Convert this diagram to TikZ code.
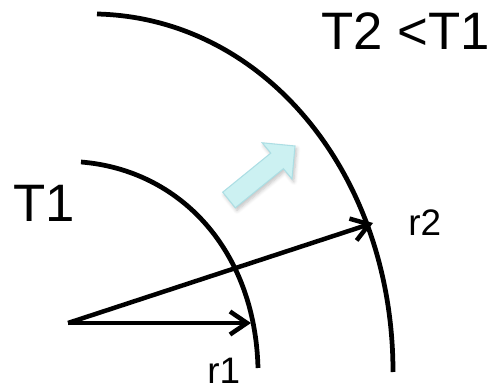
\documentclass[tikz,border=0pt]{standalone}
\usepackage{fontspec}
\setmainfont{Liberation Sans}
\usepackage{xcolor}
\definecolor{flowcyan}{RGB}{204,241,242}
\definecolor{flowedge}{RGB}{172,222,228}
\usepackage{tikz}
\usetikzlibrary{arrows.meta,shadows.blur}

\begin{document}
\begin{tikzpicture}[x=0.02cm,y=-0.02cm,
                    arcline/.style={line width=0.095cm},
                    vecarrow/.style={line width=0.09cm,
                                     -{Straight Barb[length=0.34cm,width=0.46cm,line width=0.09cm]}},
                    biglabel/.style={font=\fontsize{30}{36}\selectfont,inner sep=0pt},
                    smalllabel/.style={font=\fontsize{21}{25}\selectfont,inner sep=0pt}]
    \useasboundingbox (0,0) rectangle (493,391);
    % isotherm arcs
    \draw[arcline] (81,162) .. controls (180,170) and (255,250) .. (258,368);
    \draw[arcline] (97,14) .. controls (265,18) and (393,175) .. (393,372);
    % radius vectors
    \coordinate (orig) at (68,323);
    \coordinate (tipr1) at (251,323);
    \coordinate (tipr2) at (373,223);
    \draw[vecarrow] (orig) -- (tipr1);
    \draw[vecarrow] (orig) -- (tipr2);
    % heat flow arrow
    \fill[flowcyan,draw=flowedge,line width=0.6pt,
          blur shadow={shadow xshift=1pt,shadow yshift=-1.5pt,shadow opacity=25,shadow blur steps=6}]
      (235.3,207.8) -- (283.4,168.7) -- (292,179) -- (295,146)
      -- (262.2,142.8) -- (270.8,153.1) -- (222.7,192.2) -- cycle;
    % labels
    \node[biglabel,anchor=base east] (tcold) at (490,50) {T2 <T1};
    \node[biglabel,anchor=base west] (thot) at (13,222) {T1};
    \node[smalllabel,anchor=base west] (lr2) at (408,236) {r2};
    \node[smalllabel,anchor=base west] (lr1) at (207,383) {r1};
  \end{tikzpicture}
\end{document}
